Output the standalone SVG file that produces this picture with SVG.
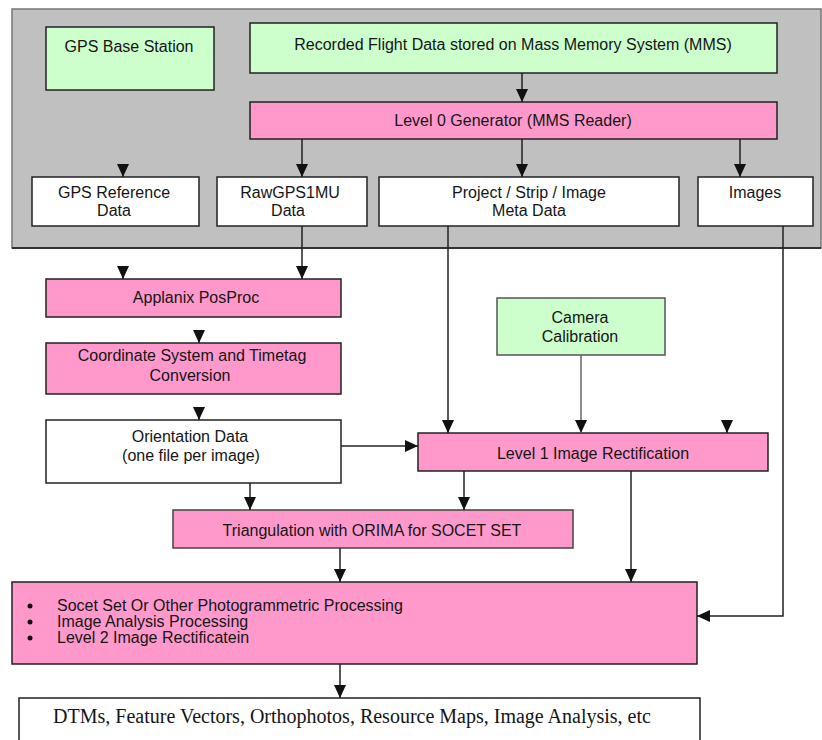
<svg xmlns="http://www.w3.org/2000/svg" width="822" height="740" viewBox="0 0 822 740">
<defs>
<style>
text{font-family:"Liberation Sans",Arial,sans-serif;font-size:16px;fill:#151515;text-anchor:middle}
.green{fill:#ccffcc;stroke:#222;stroke-width:1.5}
.pink{fill:#ff99cc;stroke:#222;stroke-width:1.5}
.white{fill:#fff;stroke:#222;stroke-width:1.5}
.con{fill:none;stroke:#222;stroke-width:1.5;marker-end:url(#ah)}
.serif{font-family:"Liberation Serif","Times New Roman",serif;font-size:20px}
.left{text-anchor:start}
</style>
<marker id="ah" viewBox="0 0 13 12" refX="13" refY="6" markerWidth="13" markerHeight="12" markerUnits="userSpaceOnUse" orient="auto">
<path d="M0,0 L13,6 L0,12 z" fill="#111"/>
</marker>
</defs>
<rect width="822" height="740" fill="#fff"/>
<g id="container">
<rect x="12" y="9" width="809" height="239" fill="#c0c0c0" stroke="#777" stroke-width="1.5"/>
<line x1="12" y1="248" x2="821" y2="248" stroke="#333" stroke-width="2"/>
</g>
<g id="gps-base"><rect class="green" x="46" y="27" width="168" height="63"/><text x="129" y="52">GPS Base Station</text></g>
<g id="recorded"><rect class="green" x="250" y="23" width="527" height="50"/><text x="513" y="50">Recorded Flight Data stored on Mass Memory System (MMS)</text></g>
<g id="level0"><rect class="pink" x="250" y="102" width="527" height="37"/><text x="513" y="126">Level 0 Generator (MMS Reader)</text></g>
<g id="gps-ref"><rect class="white" x="32" y="177" width="167" height="49"/><text x="114" y="198">GPS Reference</text><text x="114" y="216">Data</text></g>
<g id="rawgps"><rect class="white" x="217" y="177" width="150" height="49"/><text x="290" y="198">RawGPS1MU</text><text x="288" y="216">Data</text></g>
<g id="project"><rect class="white" x="379" y="177" width="300" height="49"/><text x="529" y="198">Project / Strip / Image</text><text x="529" y="216">Meta Data</text></g>
<g id="images"><rect class="white" x="698" y="177" width="115" height="49"/><text x="755" y="198">Images</text></g>
<g id="applanix"><rect class="pink" x="46" y="279" width="295" height="38"/><text x="196" y="303">Applanix PosProc</text></g>
<g id="coord"><rect class="pink" x="46" y="343" width="295" height="51"/><text x="192" y="361">Coordinate System and Timetag</text><text x="190" y="381">Conversion</text></g>
<g id="orientation"><rect class="white" x="46" y="420" width="295" height="63"/><text x="190" y="442">Orientation Data</text><text x="191" y="461">(one file per image)</text></g>
<g id="camera"><rect x="497" y="298" width="168" height="57" fill="#ccffcc" stroke="#555" stroke-width="1.5"/><text x="580" y="323">Camera</text><text x="580" y="342">Calibration</text></g>
<g id="level1"><rect class="pink" x="418" y="433" width="350" height="38"/><text x="593" y="459">Level 1 Image Rectification</text></g>
<g id="triangulation"><rect x="173" y="510" width="400" height="38" fill="#ff99cc" stroke="#444" stroke-width="1.5"/><text x="372" y="536">Triangulation with ORIMA for SOCET SET</text></g>
<g id="processing"><rect class="pink" x="12" y="582" width="685" height="82"/>
<circle cx="30" cy="606" r="2.5" fill="#111"/><circle cx="30" cy="622" r="2.5" fill="#111"/><circle cx="30" cy="638" r="2.5" fill="#111"/>
<text class="left" x="57" y="611">Socet Set Or Other Photogrammetric Processing</text>
<text class="left" x="57" y="627">Image Analysis Processing</text>
<text class="left" x="57" y="643">Level 2 Image Rectificatein</text></g>
<g id="products"><rect class="white" x="19" y="698" width="681" height="60"/><text class="serif" x="352" y="723">DTMs, Feature Vectors, Orthophotos, Resource Maps, Image Analysis, etc</text></g>
<g id="connectors">
<path class="con" d="M522,73 V102"/>
<path class="con" d="M302,139 V177"/>
<path class="con" d="M522,139 V177"/>
<path class="con" d="M740,139 V177"/>
<path class="con" d="M123,164 V177"/>
<path class="con" d="M302,226 V279"/>
<path class="con" d="M123,266 V279"/>
<path class="con" d="M199,330 V343"/>
<path class="con" d="M199,407 V420"/>
<path class="con" d="M341,446 H418"/>
<path class="con" d="M448,226 V433"/>
<path class="con" d="M581,355 V433" style="stroke:#666"/>
<path class="con" d="M727,420 V433"/>
<path class="con" d="M250,483 V510"/>
<path class="con" d="M464,471 V510"/>
<path class="con" d="M631,471 V582"/>
<path class="con" d="M783,226 V616 H697"/>
<path class="con" d="M340,548 V582"/>
<path class="con" d="M340,664 V698"/>
</g>
</svg>
